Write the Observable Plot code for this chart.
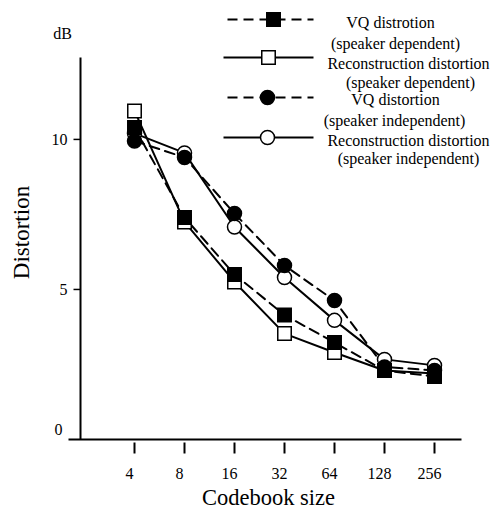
<!DOCTYPE html>
<html>
<head>
<meta charset="utf-8">
<script src="https://cdn.jsdelivr.net/npm/d3@7"></script>
<script src="https://cdn.jsdelivr.net/npm/@observablehq/plot@0.6"></script>
<style>
  html, body { margin: 0; padding: 0; background: #fff; }
  #chart svg { display: block; }
</style>
</head>
<body>
<div id="chart"></div>
<script>
// ---- data ----
const codebookSizes = [4, 8, 16, 32, 64, 128, 256];
const vqDependent   = [10.4, 7.4, 5.5, 4.15, 3.23, 2.3, 2.1];
const recDependent  = [10.95, 7.25, 5.25, 3.53, 2.9, 2.3, 2.2];
const vqIndependent = [9.95, 9.4, 7.53, 5.8, 4.63, 2.42, 2.3];
const recIndependent= [10.2, 9.55, 7.08, 5.4, 3.97, 2.67, 2.47];
const yTicks = [0, 5, 10];
const legendLabels = [
  ["VQ distrotion", "(speaker dependent)"],
  ["Reconstruction distortion", "(speaker dependent)"],
  ["VQ distortion", "(speaker independent)"],
  ["Reconstruction distortion", "(speaker independent)"]
];

// ---- styling / layout ----
const series = [
  {values: vqDependent,    symbol: "square", filled: true,  dashed: true},
  {values: recDependent,   symbol: "square", filled: false, dashed: false},
  {values: vqIndependent,  symbol: "circle", filled: true,  dashed: true},
  {values: recIndependent, symbol: "circle", filled: false, dashed: false}
];
const font = "'Liberation Serif', 'Times New Roman', serif";
const W = 501, H = 510;
const mL = 80, mR = 17, mT = 57, mB = 71;
const xDom = [0.92, 9], yDom = [0, 12.73];
const invX = p => xDom[0] + (p - mL) / (W - mR - mL) * (xDom[1] - xDom[0]);
const invY = p => yDom[1] - (p - mT) / (H - mB - mT) * (yDom[1] - yDom[0]);

const rows = series.flatMap((s, k) => s.values.map((v, i) => ({k, x: Math.log2(codebookSizes[i]), y: v})));
const xVals = codebookSizes.map(Math.log2);

// legend layout (pixels)
const legY = [19, 57, 97, 137];
const legX1 = [227, 223, 227, 223];
const legMark = [273, 268, 267, 267];
const legTextX = [[390, 395], [408, 410], [395, 394], [408, 408]];
const legTextY = [[22, 43], [63, 82], [99, 120], [140, 158]];
const legend = series.map((s, k) => ({
  k, s,
  x1: invX(legX1[k]), x2: invX(313), y: invY(legY[k]),
  xm: invX(legMark[k])
}));
const legendText = legendLabels.flatMap((lines, k) => lines.map((t, j) => ({
  t, x: invX(legTextX[k][j]), y: invY(legTextY[k][j])
})));

const marks = [];
// axes lines
marks.push(Plot.link([0], {x1: xDom[0], x2: xDom[0], y1: 0, y2: yDom[1], stroke: "black", strokeWidth: 2}));
marks.push(Plot.link([0], {x1: invX(68), x2: invX(461), y1: 0, y2: 0, stroke: "black", strokeWidth: 2}));
// x ticks
marks.push(Plot.link(xVals, {x1: d => d, x2: d => d, y1: invY(442), y2: invY(453), stroke: "black", strokeWidth: 2}));
marks.push(Plot.text(xVals, {x: d => d, frameAnchor: "bottom", lineAnchor: "middle", textAnchor: "middle", dy: 34, dx: -5, text: d => String(2 ** d), fontSize: 16, fontFamily: font, fill: "black"}));
// y ticks
const yTicksPos = yTicks.filter(d => d > 0);
marks.push(Plot.link(yTicksPos, {x1: invX(73), x2: xDom[0], y1: d => d, y2: d => d, stroke: "black", strokeWidth: 1.5}));
marks.push(Plot.text(yTicksPos, {x: xDom[0], y: d => d, dx: -13, textAnchor: "end", lineAnchor: "middle", text: d => String(d), fontSize: 16, fontFamily: font, fill: "black"}));
marks.push(Plot.text(yTicks.filter(d => d === 0), {x: xDom[0], y: d => d, dx: -18, dy: -10, textAnchor: "end", lineAnchor: "middle", text: d => String(d), fontSize: 16, fontFamily: font, fill: "black"}));
// axis labels
marks.push(Plot.text(["dB"], {frameAnchor: "top-left", textAnchor: "middle", lineAnchor: "middle", dx: -18, dy: -24, text: d => d, fontSize: 16, fontFamily: font, fill: "black"}));
marks.push(Plot.text(["Distortion"], {frameAnchor: "left", textAnchor: "middle", lineAnchor: "middle", dx: -59, dy: -16, rotate: -90, text: d => d, fontSize: 23, fontFamily: font, fill: "black"}));
marks.push(Plot.text(["Codebook size"], {frameAnchor: "bottom", textAnchor: "middle", lineAnchor: "middle", dx: -14, dy: 58, text: d => d, fontSize: 22.5, fontFamily: font, fill: "black"}));

// data lines
series.forEach((s, k) => {
  marks.push(Plot.line(rows.filter(r => r.k === k), {x: "x", y: "y", stroke: "black", strokeWidth: 2, strokeDasharray: s.dashed ? "10,6" : null}));
});
// data markers
[1, 3, 2, 0].forEach(k => {
  const s = series[k];
  marks.push(Plot.dot(rows.filter(r => r.k === k), {
    x: "x", y: "y", symbol: s.symbol, r: s.symbol === "square" ? 7.6 : 7,
    fill: s.filled ? "black" : "white", stroke: "black", strokeWidth: 1.5
  }));
});

// legend
legend.forEach(d => {
  marks.push(Plot.link([d], {x1: "x1", x2: "x2", y1: "y", y2: "y", stroke: "black", strokeWidth: 2, strokeDasharray: d.s.dashed ? "10,6" : null}));
  marks.push(Plot.dot([d], {x: "xm", y: "y", symbol: d.s.symbol, r: d.s.symbol === "square" ? 7.6 : 7, fill: d.s.filled ? "black" : "white", stroke: "black", strokeWidth: 1.5}));
});
marks.push(Plot.text(legendText, {x: "x", y: "y", text: "t", lineAnchor: "middle", textAnchor: "middle", fontSize: 16, fontFamily: font, fill: "black"}));

const chart = Plot.plot({
  width: W, height: H,
  marginLeft: mL, marginRight: mR, marginTop: mT, marginBottom: mB,
  style: {fontFamily: font, background: "white", overflow: "visible"},
  x: {type: "linear", domain: xDom, axis: null},
  y: {type: "linear", domain: yDom, axis: null},
  marks
});
document.getElementById("chart").appendChild(chart);
</script>
</body>
</html>
